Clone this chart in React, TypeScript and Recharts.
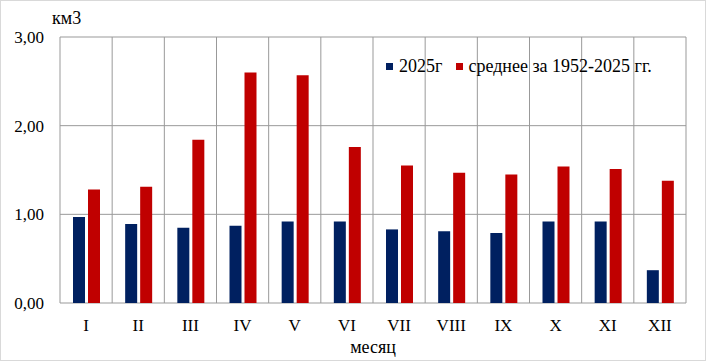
import { BarChart, Bar, XAxis, YAxis, CartesianGrid } from "recharts";

const months = ["I", "II", "III", "IV", "V", "VI", "VII", "VIII", "IX", "X", "XI", "XII"];
const values2025 = [0.97, 0.89, 0.85, 0.87, 0.92, 0.92, 0.83, 0.81, 0.79, 0.92, 0.92, 0.37];
const avgValues = [1.28, 1.31, 1.84, 2.6, 2.57, 1.76, 1.55, 1.47, 1.45, 1.54, 1.51, 1.38];
const yTicks = [0, 1, 2, 3];

const data = months.map((m, i) => ({ month: m, y2025: values2025[i], avg: avgValues[i] }));

const FONT = "Liberation Serif";
const BLUE = "#002060";
const RED = "#C00000";
const GRID = "#999999";

// vertical lines sit on category boundaries, not on tick centres
const boundaryLines = ({ offset }: any) => {
  const step = offset.width / months.length;
  return months.map((_, i) => offset.left + i * step).concat(offset.left + offset.width);
};

export default function App() {
  return (
    <div style={{ position: "absolute", left: 0, top: 0, width: 706, height: 361, background: "#fff", fontFamily: FONT }}>
      <BarChart
        width={706}
        height={361}
        data={data}
        margin={{ top: 37, right: 20, left: 0, bottom: 0 }}
        barSize={12}
        barGap={3}
        style={{ fontFamily: FONT }}
      >
        <CartesianGrid stroke={GRID} verticalCoordinatesGenerator={boundaryLines} />
        <XAxis
          dataKey="month"
          height={58}
          interval={0}
          axisLine={false}
          tickLine={false}
          tickSize={0}
          tickMargin={16}
          tick={{ fontSize: 17, fill: "#000", fontFamily: FONT }}
          label={{ value: "месяц", position: "insideBottom", offset: 8, fontSize: 18, fill: "#000", fontFamily: FONT }}
        />
        <YAxis
          width={60}
          domain={[0, 3]}
          ticks={yTicks}
          axisLine={false}
          tickLine={false}
          tickSize={0}
          tickMargin={16}
          tick={{ fontSize: 17, fill: "#000", fontFamily: FONT }}
          tickFormatter={(v: number) => v.toFixed(2).replace(".", ",")}
        />
        <Bar dataKey="y2025" fill={BLUE} isAnimationActive={false} />
        <Bar dataKey="avg" fill={RED} isAnimationActive={false} />
      </BarChart>

      <div style={{ position: "absolute", left: 52, top: 8, fontSize: 18 }}>км3</div>

      {/* legend */}
      <div
        style={{
          position: "absolute",
          left: 386,
          top: 56,
          fontSize: 18,
          display: "flex",
          alignItems: "center",
          whiteSpace: "nowrap",
        }}
      >
        <span style={{ width: 7, height: 7, background: BLUE, display: "inline-block", marginRight: 6 }} />
        <span style={{ marginRight: 14 }}>2025г</span>
        <span style={{ width: 7, height: 7, background: RED, display: "inline-block", marginRight: 5 }} />
        <span>среднее за 1952-2025 гг.</span>
      </div>

      <div
        style={{
          position: "absolute",
          left: 0,
          top: 0,
          width: 706,
          height: 361,
          boxSizing: "border-box",
          border: "1px solid #d9d9d9",
          pointerEvents: "none",
        }}
      />
    </div>
  );
}
